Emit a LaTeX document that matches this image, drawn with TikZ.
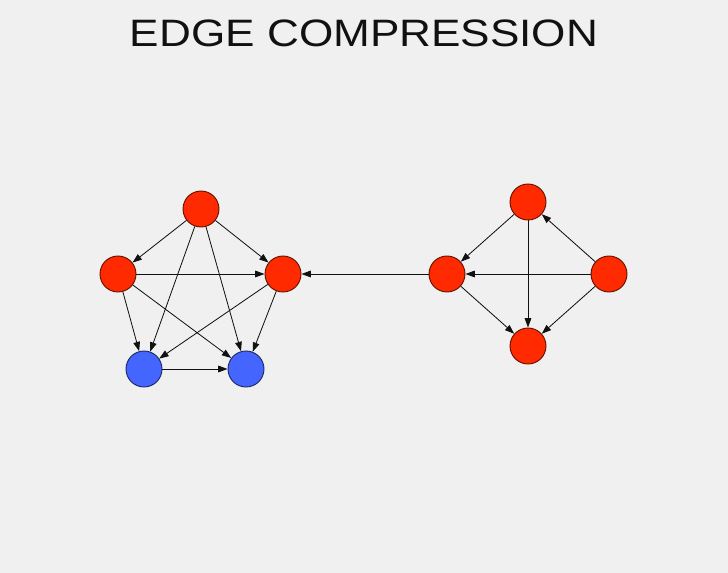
\documentclass[tikz,border=0pt]{standalone}
\usepackage{fontspec}
\setsansfont{Liberation Sans}
\usetikzlibrary{arrows.meta, positioning}
\definecolor{cbg}{HTML}{F0F0F0}
\definecolor{cred}{HTML}{FF2A00}
\definecolor{cblue}{HTML}{4466FF}
\definecolor{cink}{HTML}{111111}
\tikzset{
  every picture/.style={font=\sffamily, line width=0.6pt},
  vertex/.style={circle, draw=#1!40!black, fill=#1, minimum size=1.08cm, inner sep=0pt, line width=0.8pt},
  vertex/.default=cred,
  edge/.style={-{Triangle[length=2.8mm, width=2mm]}, draw=cink, line width=0.7pt},
  title/.style={font=\sffamily, text=cink, inner sep=0pt},
}

\begin{document}
\begin{tikzpicture}[x=0.03cm, y=-0.03cm]
  \fill[cbg] (0,0) rectangle (728,573);
  \useasboundingbox (0,0) rectangle (728,573);
  \node[title] (head) at (364,33) {\resizebox{14.04cm}{0.8cm}{EDGE COMPRESSION}};
  % before: five vertices
  \node[vertex] (a) at (201,209) {};
  \node[vertex] (b) at (118,274) {};
  \node[vertex] (c) at (283,274) {};
  \node[vertex=cblue] (d) at (144,369) {};
  \node[vertex=cblue] (e) at (246,369) {};
  \foreach \s/\t in {a/b, a/c, a/d, a/e, b/c, b/d, b/e, c/d, c/e, d/e}
    \draw[edge] (\s) -- (\t);
  % after: four vertices
  \node[vertex] (p) at (528,202) {};
  \node[vertex] (q) at (447,274) {};
  \node[vertex] (r) at (609,274) {};
  \node[vertex] (s) at (528,346) {};
  \foreach \s/\t in {p/q, p/s, r/p, r/q, r/s, q/s}
    \draw[edge] (\s) -- (\t);
  \draw[edge] (q) -- (c);
\end{tikzpicture}
\end{document}
